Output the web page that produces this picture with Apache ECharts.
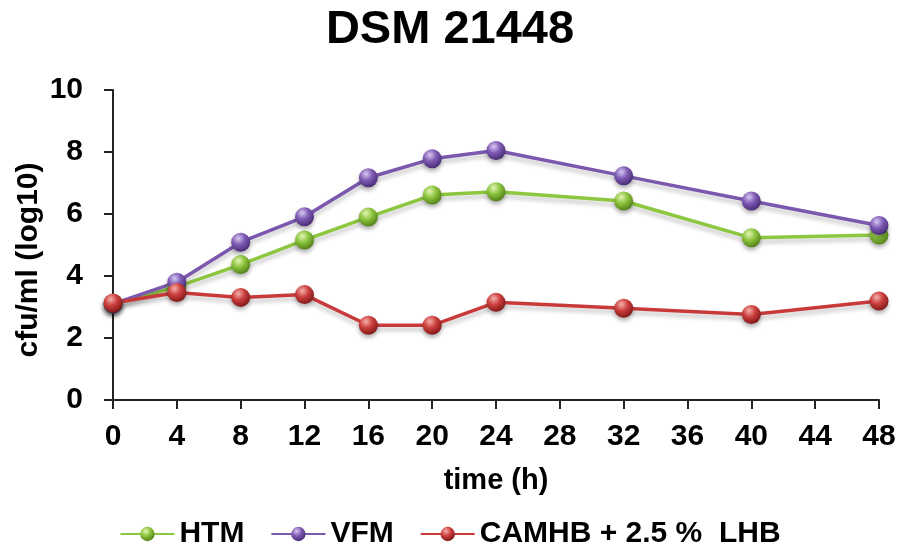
<!DOCTYPE html>
<html>
<head>
<meta charset="utf-8">
<script src="https://cdn.jsdelivr.net/npm/echarts@6/dist/echarts.min.js"></script>
<style>html,body{margin:0;padding:0;background:#fff}#c{width:900px;height:556px}</style>
</head>
<body>
<div id="c"></div>
<script>
var hours = [0, 4, 8, 12, 16, 20, 24, 32, 40, 48];
var htm = [3.1, 3.65, 4.37, 5.16, 5.9, 6.61, 6.72, 6.42, 5.23, 5.32];
var vfm = [3.1, 3.8, 5.09, 5.91, 7.17, 7.78, 8.05, 7.23, 6.42, 5.63];
var camhb = [3.13, 3.47, 3.31, 3.4, 2.41, 2.41, 3.15, 2.96, 2.76, 3.19];
var seriesNames = ['HTM', 'VFM', 'CAMHB + 2.5 %  LHB'];
var titleText = 'DSM 21448';
var xName = 'time (h)';
var yName = 'cfu/ml (log10)';
var font = 'Liberation Sans, Arial, sans-serif';

function pair(vals){ return hours.map(function(h,i){ return [h, vals[i]]; }); }
function ball(light, mid, dark){
  return { type:'radial', x:0.38, y:0.3, r:0.75,
    colorStops:[{offset:0,color:light},{offset:0.45,color:mid},{offset:1,color:dark}] };
}
function mk(name, vals, line, light, mid, dark){
  return {
    name:name, type:'line', data:pair(vals), symbol:'circle', symbolSize:19,
    lineStyle:{ color:line, width:3.5, shadowColor:'rgba(0,0,0,0.22)', shadowBlur:4, shadowOffsetY:4 },
    itemStyle:{ color:ball(light, mid, dark), borderWidth:0, shadowColor:'rgba(0,0,0,0.3)', shadowBlur:4, shadowOffsetY:3 },
    emphasis:{disabled:true}, z:2
  };
}
var chart = echarts.init(document.getElementById('c'));
chart.setOption({
  animation:false,
  backgroundColor:'#fff',
  title:{ text:titleText, left:'center', top:2,
    textStyle:{ fontFamily:font, fontWeight:'bold', fontSize:47, color:'#000' } },
  legend:{ bottom:2, left:'center', itemWidth:54, itemHeight:18, itemGap:26,
    textStyle:{ fontFamily:font, fontWeight:'bold', fontSize:30, color:'#000' },
    data:seriesNames },
  graphic:[{ type:'text', x:29, y:260, rotation:Math.PI/2,
    style:{ text:yName, fontFamily:font, fontWeight:'bold', fontSize:30, fill:'#000',
      align:'center', verticalAlign:'middle' } }],
  grid:{ left:113, right:21, top:90, bottom:156 },
  xAxis:{ type:'value', min:0, max:48, interval:4,
    name:xName, nameLocation:'middle', nameGap:66,
    nameTextStyle:{ fontFamily:font, fontWeight:'bold', fontSize:29, color:'#000' },
    axisLine:{ lineStyle:{ color:'#222', width:2 } },
    axisTick:{ show:true, length:9, lineStyle:{ color:'#222', width:2 } },
    axisLabel:{ fontFamily:font, fontWeight:'bold', fontSize:30, color:'#000', margin:22 },
    splitLine:{ show:false } },
  yAxis:{ type:'value', min:0, max:10, interval:2,
    axisLine:{ show:true, lineStyle:{ color:'#222', width:2 } },
    axisTick:{ show:true, length:9, lineStyle:{ color:'#222', width:2 } },
    axisLabel:{ fontFamily:font, fontWeight:'bold', fontSize:30, color:'#000', margin:30 },
    splitLine:{ show:false } },
  series:[
    mk(seriesNames[0], htm, '#8dc63f', '#e4f5b8', '#8cc43c', '#4f7a17'),
    mk(seriesNames[1], vfm, '#7b58ae', '#d8c8f0', '#7f5bb5', '#43286e'),
    mk(seriesNames[2], camhb, '#c83a3a', '#f4b0ac', '#cc3f3d', '#7a1515')
  ]
});
</script>
</body>
</html>
